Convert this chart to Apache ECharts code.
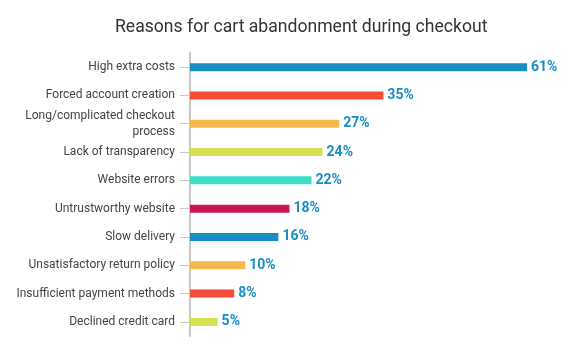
<!DOCTYPE html>
<html><head><meta charset="utf-8">
<script src="https://cdn.jsdelivr.net/npm/echarts@6/dist/echarts.min.js"></script>
<style>html,body{margin:0;padding:0;background:#fff}#c{width:574px;height:344px}</style>
</head><body><div id="c"></div>
<script>
const categories = ["High extra costs","Forced account creation","Long/complicated checkout\nprocess","Lack of transparency","Website errors","Untrustworthy website","Slow delivery","Unsatisfactory return policy","Insufficient payment methods","Declined credit card"];
const values = [61,35,27,24,22,18,16,10,8,5];
const barColors = ["#188dc3","#f64b36","#f7b84b","#d7e052","#3adfc7","#cc1652","#188dc3","#f7b84b","#f64b36","#d7e052"];

const chart = echarts.init(document.getElementById('c'), null, {renderer:'canvas'});
chart.setOption({
  animation:false,
  title:{text:"Reasons for cart abandonment during checkout",left:110,top:14,
    textStyle:{fontFamily:'Roboto',fontSize:17.6,fontWeight:'normal',color:'#333'}},
  grid:{left:190,right:47,top:53,bottom:8,containLabel:false},
  xAxis:{type:'value',min:0,max:61,show:false},
  yAxis:{type:'category',inverse:true,data:categories,
    axisLine:{show:true,lineStyle:{color:'#c8c8c8',width:2}},
    axisTick:{show:true,alignWithLabel:true,length:10,lineStyle:{color:'#c8c8c8'}},
    axisLabel:{fontFamily:'Roboto',fontSize:12,color:'#444',margin:15,lineHeight:16,align:'right'},
    splitLine:{show:false}},
  series:[{type:'bar',barWidth:8,
    data:values.map((v,i)=>({value:v,itemStyle:{color:barColors[i]}})),
    label:{show:true,position:'right',distance:4,formatter:'{c}%',
      fontFamily:'Roboto',fontSize:14,fontWeight:'bold',color:'#1a8dc6'}}]
});
</script></body></html>
